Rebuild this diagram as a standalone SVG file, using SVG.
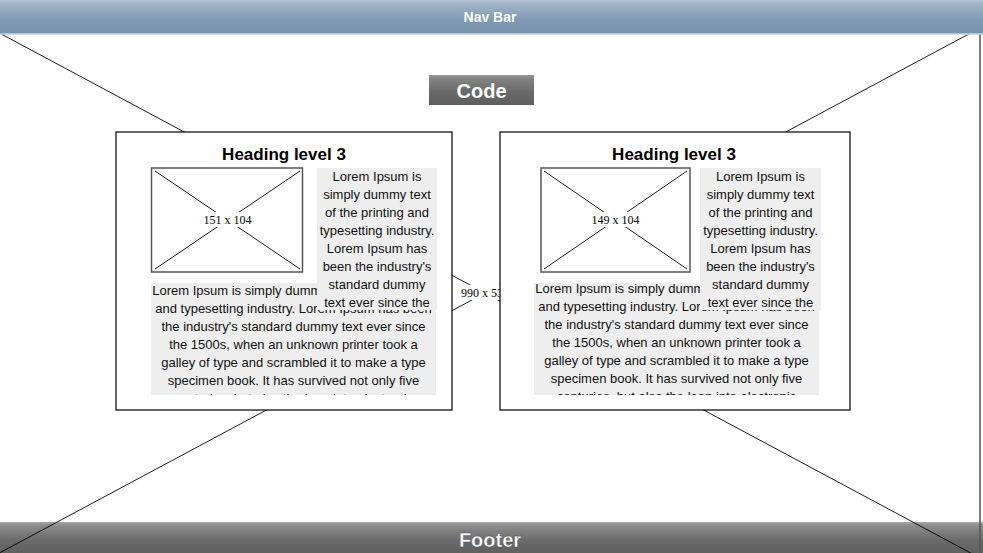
<svg xmlns="http://www.w3.org/2000/svg" width="983" height="553" viewBox="0 0 983 553">
<defs>
<linearGradient id="gNav" x1="0" y1="0" x2="0" y2="1">
<stop offset="0" stop-color="#b4c2d2"/>
<stop offset="0.15" stop-color="#9fb1c5"/>
<stop offset="0.6" stop-color="#7f98b3"/>
<stop offset="1" stop-color="#7a94af"/>
</linearGradient>
<linearGradient id="gFoot" x1="0" y1="0" x2="0" y2="1">
<stop offset="0" stop-color="#a8a8a8"/>
<stop offset="0.1" stop-color="#8e8e8e"/>
<stop offset="0.6" stop-color="#6a6a6a"/>
<stop offset="1" stop-color="#606060"/>
</linearGradient>
<linearGradient id="gBtn" x1="0" y1="0" x2="0" y2="1">
<stop offset="0" stop-color="#9a9a9a"/>
<stop offset="0.1" stop-color="#858585"/>
<stop offset="0.55" stop-color="#6a6a6a"/>
<stop offset="1" stop-color="#5e5e5e"/>
</linearGradient>
<clipPath id="cL"><rect x="151" y="283" width="285" height="112"/></clipPath>
<clipPath id="cR"><rect x="534" y="283" width="285" height="112"/></clipPath>
</defs>
<style>
.panel{fill:#ffffff;stroke:#000000;stroke-width:1.2}
.img{fill:#ffffff;stroke:#555555;stroke-width:1.5}
.x{stroke:#000000;stroke-width:0.9;fill:none}
.lbl{font-family:"Liberation Serif","Times New Roman",serif;font-size:12px;fill:#000000;text-anchor:middle}
.lblbg{fill:#ffffff}
.h3{font-family:"Liberation Sans",Arial,sans-serif;font-size:17px;font-weight:bold;fill:#000000;text-anchor:middle}
.body{font-family:"Liberation Sans",Arial,sans-serif;font-size:13px;fill:#111111;text-anchor:middle}
.tbox{fill:#eeeeee}
.bar{font-family:"Liberation Sans",Arial,sans-serif;font-weight:bold;fill:#ffffff;text-anchor:middle}
</style>
<rect x="0" y="0" width="983" height="553" fill="#ffffff"/>
<g id="footer">
<rect x="0" y="522" width="983" height="31" fill="url(#gFoot)"/>
<text class="bar" x="490" y="547" font-size="20" fill-opacity="1" stroke="#444" stroke-width="0.3">Footer</text>
</g>
<g id="background-placeholder">
<rect x="-10" y="28" width="990" height="530" fill="none" stroke="#555555" stroke-width="1.5"/>
<g id="connectors">
<line class="x" x1="-10" y1="28" x2="980" y2="558"/>
<line class="x" x1="980" y1="28" x2="-10" y2="558"/>
</g>
<rect class="lblbg" x="458" y="285" width="54" height="15"/>
<text class="lbl" x="485" y="297">990 x 530</text>
</g>
<g id="navbar">
<rect x="0" y="0" width="983" height="34" fill="url(#gNav)"/>
<line x1="0" y1="34" x2="983" y2="34" stroke="#c8d0da" stroke-width="1.5"/>
<text class="bar" x="490" y="22" font-size="14">Nav Bar</text>
</g>
<g id="code-button">
<rect x="429" y="75" width="105" height="30" fill="url(#gBtn)"/>
<text class="bar" x="481.5" y="98" font-size="20">Code</text>
</g>
<g id="left-panel">
<rect class="panel" x="116" y="132" width="336" height="278"/>
<text class="h3" x="284" y="160">Heading level 3</text>
<g id="left-image">
<rect class="img" x="151.5" y="168" width="151" height="104"/>
<line class="x" x1="155" y1="171" x2="300" y2="269"/>
<line class="x" x1="300" y1="171" x2="155" y2="269"/>
<rect class="lblbg" x="201" y="212" width="53" height="15"/>
<text class="lbl" x="227.5" y="224">151 x 104</text>
</g>
<g id="left-bottom-text">
<rect class="tbox" x="151" y="283" width="285" height="112"/>
<g clip-path="url(#cL)">
<text class="body" x="293.5" y="295">Lorem Ipsum is simply dummy text of the printing</text>
<text class="body" x="293.5" y="313">and typesetting industry. Lorem Ipsum has been</text>
<text class="body" x="293.5" y="331">the industry's standard dummy text ever since</text>
<text class="body" x="293.5" y="349">the 1500s, when an unknown printer took a</text>
<text class="body" x="293.5" y="367">galley of type and scrambled it to make a type</text>
<text class="body" x="293.5" y="385">specimen book. It has survived not only five</text>
<text class="body" x="293.5" y="403">centuries, but also the leap into electronic</text>
</g>
</g>
<g id="left-side-text">
<rect class="tbox" x="317" y="168" width="120" height="142"/>
<text class="body" x="377" y="181">Lorem Ipsum is</text>
<text class="body" x="377" y="199">simply dummy text</text>
<text class="body" x="377" y="217">of the printing and</text>
<text class="body" x="377" y="235">typesetting industry.</text>
<text class="body" x="377" y="253">Lorem Ipsum has</text>
<text class="body" x="377" y="271">been the industry's</text>
<text class="body" x="377" y="289">standard dummy</text>
<text class="body" x="377" y="307">text ever since the</text>
</g>
</g>
<g id="right-panel">
<rect class="panel" x="500" y="132" width="350" height="278"/>
<text class="h3" x="674" y="160">Heading level 3</text>
<g id="right-image">
<rect class="img" x="541" y="168" width="149" height="104"/>
<line class="x" x1="544" y1="171" x2="687" y2="269"/>
<line class="x" x1="687" y1="171" x2="544" y2="269"/>
<rect class="lblbg" x="589" y="212" width="53" height="15"/>
<text class="lbl" x="615.5" y="224">149 x 104</text>
</g>
<g id="right-bottom-text">
<rect class="tbox" x="534" y="283" width="285" height="112"/>
<g clip-path="url(#cR)">
<text class="body" x="676.5" y="293">Lorem Ipsum is simply dummy text of the printing</text>
<text class="body" x="676.5" y="311">and typesetting industry. Lorem Ipsum has been</text>
<text class="body" x="676.5" y="329">the industry's standard dummy text ever since</text>
<text class="body" x="676.5" y="347">the 1500s, when an unknown printer took a</text>
<text class="body" x="676.5" y="365">galley of type and scrambled it to make a type</text>
<text class="body" x="676.5" y="383">specimen book. It has survived not only five</text>
<text class="body" x="676.5" y="401">centuries, but also the leap into electronic</text>
</g>
</g>
<g id="right-side-text">
<rect class="tbox" x="700" y="168" width="121" height="142"/>
<text class="body" x="760.5" y="181">Lorem Ipsum is</text>
<text class="body" x="760.5" y="199">simply dummy text</text>
<text class="body" x="760.5" y="217">of the printing and</text>
<text class="body" x="760.5" y="235">typesetting industry.</text>
<text class="body" x="760.5" y="253">Lorem Ipsum has</text>
<text class="body" x="760.5" y="271">been the industry's</text>
<text class="body" x="760.5" y="289">standard dummy</text>
<text class="body" x="760.5" y="307">text ever since the</text>
</g>
</g>
</svg>
